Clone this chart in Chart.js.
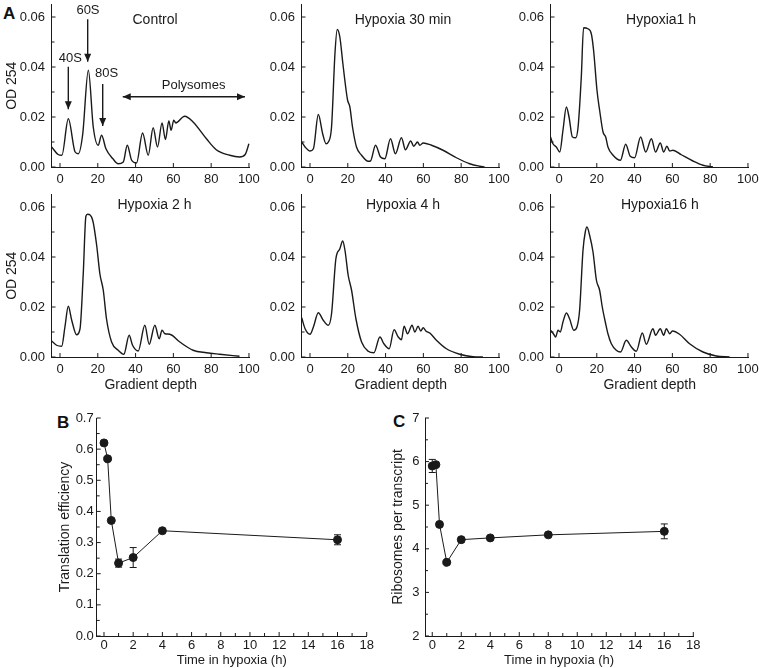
<!DOCTYPE html>
<html>
<head>
<meta charset="utf-8">
<script src="https://cdn.jsdelivr.net/npm/chart.js@4.4.0/dist/chart.umd.min.js"></script>
<style>
  html, body { margin: 0; padding: 0; background: #fff; overflow: hidden; }
  body { width: 759px; height: 668px; position: relative; font-family: "Liberation Sans", Arial, sans-serif; }
  canvas { position: absolute; }
  .tag { position: absolute; font-weight: bold; font-size: 17px; line-height: 1; color: #111; }
</style>
</head>
<body>
<div class="tag" style="left:3px;top:5px">A</div>
<div class="tag" style="left:57px;top:414px">B</div>
<div class="tag" style="left:393px;top:413px">C</div>
<script>
// tick labels
const depthTicks = ['0', '20', '40', '60', '80', '100'];
const odTicks = ['0.00', '0.02', '0.04', '0.06'];
const odMinor = [0.01, 0.03, 0.05];
const hourTicks = ['0', '2', '4', '6', '8', '10', '12', '14', '16', '18'];
const hourMinor = [1, 3, 5, 7, 9, 11, 13, 15, 17];
const teTicks = ['0.0', '0.1', '0.2', '0.3', '0.4', '0.5', '0.6', '0.7'];
const teMinor = [0.05, 0.15, 0.25, 0.35, 0.45, 0.55, 0.65];
const rptTicks = ['2', '3', '4', '5', '6', '7'];
const rptMinor = [2.5, 3.5, 4.5, 5.5, 6.5];

// polysome profiles (gradient depth vs OD 254)
const ctrlDepth = [-4.4, -1, 1, 4.4, 8, 9.7, 12, 15, 17.6, 20.2, 22, 24.3, 28, 30.8, 33.5, 35.6, 37.9, 40.5, 43.7, 46.7, 49.3, 51.6, 54, 55.8, 57.6, 58.8, 60.2, 61.3, 65, 66, 70.4, 77.5, 82.7, 89.8, 95, 98, 100];
const ctrlOD = [0.008, 0.005, 0.0047, 0.0193, 0.006, 0.0053, 0.013, 0.0387, 0.016, 0.0087, 0.0127, 0.0073, 0.0033, 0.0013, 0.002, 0.0087, 0.0027, 0.0016, 0.0136, 0.0047, 0.0157, 0.008, 0.0176, 0.011, 0.0184, 0.0147, 0.0187, 0.0176, 0.020, 0.0203, 0.018, 0.0113, 0.0069, 0.0047, 0.004, 0.005, 0.0093];

const h30Depth = [-4.4, -2.6, 0, 1.8, 4.4, 6.7, 8.5, 9.7, 11.4, 13.2, 14.4, 15.8, 17.3, 19, 19.9, 21.1, 22.5, 24.6, 27.3, 30.8, 32, 34.7, 37.3, 39.6, 42.6, 45.2, 48.4, 50.5, 53.3, 54.9, 56.9, 58.1, 59.9, 64.3, 70.4, 77.5, 84.5, 89.8, 92.4];
const h30OD = [0.01, 0.008, 0.0064, 0.0073, 0.021, 0.0133, 0.0093, 0.01, 0.016, 0.0453, 0.055, 0.052, 0.042, 0.0313, 0.0267, 0.024, 0.016, 0.008, 0.0047, 0.0023, 0.0024, 0.0087, 0.004, 0.0033, 0.0113, 0.0053, 0.0117, 0.0069, 0.0104, 0.0083, 0.01, 0.0087, 0.0096, 0.0087, 0.0067, 0.0037, 0.0013, 0.0003, 0];

const h1Depth = [-4.5, -3.2, -1.4, 0.4, 2.1, 3.9, 5.3, 7.1, 8.8, 10.1, 11.8, 13, 15.3, 17.1, 18.3, 20.1, 21.5, 23.3, 24.7, 25.9, 28.6, 32.5, 35.3, 37.7, 40, 43.2, 45.9, 48.9, 51.1, 53.6, 55.4, 57.1, 58.6, 60.3, 64.7, 70.9, 76.2, 81.5];
const h1OD = [0.012, 0.0093, 0.008, 0.006, 0.0147, 0.024, 0.02, 0.012, 0.0117, 0.016, 0.036, 0.0557, 0.0553, 0.0533, 0.0467, 0.0307, 0.0227, 0.014, 0.012, 0.008, 0.0047, 0.0027, 0.0091, 0.0043, 0.0037, 0.012, 0.006, 0.0113, 0.006, 0.0096, 0.006, 0.0083, 0.0064, 0.0067, 0.0049, 0.0024, 0.0007, 0];

const h2Depth = [-4.4, -1.8, 0.9, 2.6, 4.4, 6.2, 8.8, 10.6, 12.3, 13.7, 14.6, 17.3, 19.4, 21.1, 22.9, 24.6, 27.3, 30.8, 33.8, 36.6, 38.4, 41.4, 44.9, 47.2, 50.2, 52.5, 54, 55.5, 58.1, 63.4, 70.4, 77.5, 84.5, 95];
const h2OD = [0.0064, 0.0047, 0.0043, 0.012, 0.0203, 0.0147, 0.0089, 0.0113, 0.0333, 0.0563, 0.0571, 0.0547, 0.0447, 0.0333, 0.0267, 0.0153, 0.006, 0.0027, 0.0011, 0.0087, 0.0047, 0.0024, 0.0127, 0.0051, 0.0127, 0.0073, 0.0107, 0.0093, 0.0091, 0.006, 0.0027, 0.0017, 0.0011, 0.0003];

const h4Depth = [-4.4, -2.6, 0, 1.8, 4.4, 7, 9.7, 11.4, 13.7, 15.8, 17.3, 18.5, 20.2, 22, 24.3, 27.3, 30.8, 33.8, 37, 39.1, 41.9, 44.5, 46.7, 48.4, 49.8, 51.6, 54, 55.5, 57.2, 58.6, 59.9, 61.3, 63.4, 66.9, 72.2, 79.2, 86.3, 91.5];
const h4OD = [0.0157, 0.0113, 0.0091, 0.012, 0.0177, 0.0147, 0.0127, 0.0173, 0.0393, 0.0433, 0.0464, 0.0427, 0.0327, 0.0267, 0.0153, 0.006, 0.0023, 0.0017, 0.008, 0.0053, 0.0033, 0.0109, 0.008, 0.0069, 0.0123, 0.0093, 0.0127, 0.01, 0.0123, 0.0104, 0.0117, 0.0104, 0.0096, 0.0067, 0.0033, 0.0011, 0.0001, 0];

const h16Depth = [-4.5, -2.8, -1.8, -0.5, 0.7, 2.1, 3.9, 5.6, 7.8, 9.5, 10.9, 12.7, 13.9, 14.8, 16.2, 18, 19.8, 21.5, 22.9, 24.7, 25.9, 27.7, 30.3, 32.6, 35.6, 38.3, 40.9, 44.1, 46.2, 49.7, 51.1, 53.6, 55.4, 56.8, 58.6, 60, 63.8, 69.1, 76.2, 83.2, 90.3];
const h16OD = [0.0107, 0.0091, 0.008, 0.0107, 0.01, 0.014, 0.0176, 0.0153, 0.0107, 0.012, 0.0187, 0.0427, 0.05, 0.052, 0.0487, 0.042, 0.0307, 0.0267, 0.02, 0.0133, 0.0093, 0.0053, 0.0027, 0.002, 0.0067, 0.004, 0.0023, 0.0096, 0.0051, 0.0113, 0.0087, 0.0113, 0.0087, 0.0113, 0.0093, 0.0104, 0.0091, 0.0053, 0.002, 0.0004, 0];

// B: translation efficiency
const teHours = [0, 0.25, 0.5, 1, 2, 4, 16];
const teValues = [0.62, 0.569, 0.371, 0.234, 0.252, 0.338, 0.309];
const teErr = [0, 0, 0, 0.013, 0.032, 0.005, 0.016];

// C: ribosomes per transcript
const rptHours = [0, 0.25, 0.5, 1, 2, 4, 8, 16];
const rptValues = [5.9, 5.93, 4.56, 3.69, 4.21, 4.25, 4.32, 4.4];
const rptErr = [0.15, 0, 0, 0, 0, 0, 0, 0.17];

const FONT = '"Liberation Sans", Arial, sans-serif';
const INK = '#1a1a1a';
Chart.defaults.font.family = FONT;
Chart.defaults.font.size = 13;
Chart.defaults.color = INK;

function setTicks(scale, labels, minor) {
    const major = labels.map(l => ({ value: +l }));
    const small = minor.map(v => ({ value: v, minor: true }));
    scale.ticks = major.concat(small).sort((a, b) => a.value - b.value);
}

function labelFor(labels) {
    return function(value) {
        const l = labels.find(s => Math.abs(+s - value) < 1e-9);
        return l === undefined ? '' : l;
    };
}

// inward pointing tick marks
const inTicks = {
    id: 'inTicks',
    afterDraw(chart) {
        const ctx = chart.ctx;
        const a = chart.chartArea;
        ctx.save();
        ctx.strokeStyle = INK;
        ctx.lineWidth = 1;
        Object.values(chart.scales).forEach(s => {
            s.ticks.forEach(t => {
                const len = t.minor ? 3 : 4;
                const p = s.getPixelForValue(t.value);
                ctx.beginPath();
                if (s.isHorizontal()) {
                    ctx.moveTo(p, a.bottom);
                    ctx.lineTo(p, a.bottom - len);
                } else {
                    ctx.moveTo(a.left, p);
                    ctx.lineTo(a.left + len, p);
                }
                ctx.stroke();
            });
        });
        ctx.restore();
    }
};

function arrowHead(ctx, fx, fy, tx, ty) {
    const ang = Math.atan2(ty - fy, tx - fx);
    const L = 8, W = 3.5;
    const c = Math.cos(ang), s = Math.sin(ang);
    ctx.beginPath();
    ctx.moveTo(tx, ty);
    ctx.lineTo(tx - L * c + W * s, ty - L * s - W * c);
    ctx.lineTo(tx - L * c - W * s, ty - L * s + W * c);
    ctx.closePath();
    ctx.fill();
}

// panel texts, arrows and error bars, placed in data units
const notes = {
    id: 'notes',
    afterDraw(chart, args, opts) {
        const xs = chart.scales.x, ys = chart.scales.y, ctx = chart.ctx;
        const px = v => xs.getPixelForValue(v), py = v => ys.getPixelForValue(v);
        ctx.save();
        ctx.fillStyle = INK;
        ctx.strokeStyle = INK;
        ctx.textAlign = 'center';
        ctx.textBaseline = 'middle';
        (opts.texts || []).forEach(t => {
            ctx.font = (t.size || 13) + 'px ' + FONT;
            ctx.fillText(t.text, px(t.x), py(t.y));
        });
        ctx.lineWidth = 1.4;
        (opts.arrows || []).forEach(a => {
            const x1 = px(a.x1), y1 = py(a.y1), x2 = px(a.x2), y2 = py(a.y2);
            ctx.beginPath();
            ctx.moveTo(x1, y1);
            ctx.lineTo(x2, y2);
            ctx.stroke();
            arrowHead(ctx, x1, y1, x2, y2);
            if (a.both) arrowHead(ctx, x2, y2, x1, y1);
        });
        if (opts.err) {
            ctx.lineWidth = 1;
            const e = opts.err;
            e.xs.forEach((x, i) => {
                if (!e.es[i]) return;
                const cx = px(x), top = py(e.ys[i] + e.es[i]), bot = py(e.ys[i] - e.es[i]);
                ctx.beginPath();
                ctx.moveTo(cx, top); ctx.lineTo(cx, bot);
                ctx.moveTo(cx - 3.5, top); ctx.lineTo(cx + 3.5, top);
                ctx.moveTo(cx - 3.5, bot); ctx.lineTo(cx + 3.5, bot);
                ctx.stroke();
            });
        }
        ctx.restore();
    }
};

function makeCanvas(box) {
    const c = document.createElement('canvas');
    c.width = box.w;
    c.height = box.h;
    c.style.left = box.x + 'px';
    c.style.top = box.y + 'px';
    document.body.appendChild(c);
    return c;
}

// box = canvas rect on page, area = plot area on page
function makeChart(box, area, sc, datasets, noteOpts) {
    const canvas = makeCanvas(box);
    const xSize = sc.xTitleSize || 13;
    const xTitle = sc.xTitle ? {
        display: true, text: sc.xTitle, font: { size: xSize },
        padding: { top: 0, bottom: Math.max(0, box.y + box.h - sc.xTitleY - xSize * 0.6) }
    } : { display: false };
    const yTitle = sc.yTitle ? {
        display: true, text: sc.yTitle, font: { size: 14 },
        padding: { top: Math.max(0, sc.yTitleX - box.x - 8.4), bottom: 0 }
    } : { display: false };
    return new Chart(canvas, {
        type: 'line',
        data: { datasets: datasets },
        options: {
            responsive: false,
            animation: false,
            devicePixelRatio: 1,
            layout: { padding: { left: 0, bottom: 0, top: area.t - box.y, right: box.x + box.w - area.r } },
            plugins: { legend: { display: false }, tooltip: { enabled: false }, notes: noteOpts },
            scales: {
                x: {
                    type: 'linear', min: sc.xMin, max: sc.xMax,
                    grid: { drawOnChartArea: false, drawTicks: false },
                    border: { color: INK, width: 1 },
                    ticks: { padding: sc.xPad, autoSkip: false, maxRotation: 0, callback: labelFor(sc.xLabels) },
                    afterBuildTicks: s => setTicks(s, sc.xLabels, sc.xMinor),
                    afterFit: s => {
                        s.height = box.y + box.h - area.b;
                        s.paddingLeft = 0;
                        s.paddingRight = 0;
                    },
                    title: xTitle
                },
                y: {
                    type: 'linear', min: sc.yMin, max: sc.yMax,
                    grid: { drawOnChartArea: false, drawTicks: false },
                    border: { color: INK, width: 1 },
                    ticks: { padding: sc.yPad, autoSkip: false, callback: labelFor(sc.yLabels) },
                    afterBuildTicks: s => setTicks(s, sc.yLabels, sc.yMinor),
                    afterFit: s => {
                        s.width = area.l - box.x;
                        s.paddingTop = 0;
                        s.paddingBottom = 0;
                    },
                    title: yTitle
                }
            }
        },
        plugins: [inTicks, notes]
    });
}

function profileSet(depth, od) {
    return [{
        data: depth.map((x, i) => ({ x: x, y: od[i] })),
        borderColor: INK,
        borderWidth: 1.4,
        pointRadius: 0,
        cubicInterpolationMode: 'monotone',
        fill: false
    }];
}

const profiles = [
    { name: 'Control', depth: ctrlDepth, od: ctrlOD, box: { x: 0, y: 0, w: 264, h: 190 }, area: { l: 51.5, t: 4.5, r: 249.9, b: 167 }, tx: 50.3, ty: 0.0588, yTitle: true },
    { name: 'Hypoxia 30 min', depth: h30Depth, od: h30OD, box: { x: 262, y: 0, w: 252, h: 190 }, area: { l: 301.5, t: 4.5, r: 499.9, b: 167 }, tx: 49.2, ty: 0.0588 },
    { name: 'Hypoxia1 h', depth: h1Depth, od: h1OD, box: { x: 510, y: 0, w: 254, h: 190 }, area: { l: 550.5, t: 4.5, r: 748.9, b: 167 }, tx: 54, ty: 0.0588 },
    { name: 'Hypoxia 2 h', depth: h2Depth, od: h2OD, box: { x: 0, y: 190, w: 264, h: 206 }, area: { l: 51.5, t: 194.5, r: 249.9, b: 357 }, tx: 50, ty: 0.0608, yTitle: true, xTitle: true },
    { name: 'Hypoxia 4 h', depth: h4Depth, od: h4OD, box: { x: 262, y: 190, w: 252, h: 206 }, area: { l: 301.5, t: 194.5, r: 499.9, b: 357 }, tx: 49.2, ty: 0.0608, xTitle: true },
    { name: 'Hypoxia16 h', depth: h16Depth, od: h16OD, box: { x: 510, y: 190, w: 254, h: 206 }, area: { l: 550.5, t: 194.5, r: 748.9, b: 357 }, tx: 53.4, ty: 0.0608, xTitle: true }
];

const controlArrows = [
    { x1: 4.4, y1: 0.0401, x2: 4.4, y2: 0.0231 },
    { x1: 14.65, y1: 0.0591, x2: 14.65, y2: 0.0421 },
    { x1: 22.6, y1: 0.0332, x2: 22.6, y2: 0.0164 },
    { x1: 33.2, y1: 0.0281, x2: 97.9, y2: 0.0281, both: true }
];
const controlTexts = [
    { text: '40S', x: 5.5, y: 0.0435 },
    { text: '60S', x: 14.8, y: 0.0628 },
    { text: '80S', x: 24.7, y: 0.0375 },
    { text: 'Polysomes', x: 70.7, y: 0.0328 }
];

profiles.forEach((p, i) => {
    const texts = [{ text: p.name, x: p.tx, y: p.ty, size: 14 }];
    makeChart(p.box, p.area, {
        xMin: -4.5, xMax: 100.5, yMin: 0, yMax: 0.065,
        xLabels: depthTicks, xMinor: [], yLabels: odTicks, yMinor: odMinor,
        xPad: 5, yPad: 6.5,
        yTitle: p.yTitle ? 'OD 254' : null, yTitleX: 12,
        xTitle: p.xTitle ? 'Gradient depth' : null, xTitleY: 385, xTitleSize: 14
    }, profileSet(p.depth, p.od), {
        texts: i === 0 ? texts.concat(controlTexts) : texts,
        arrows: i === 0 ? controlArrows : []
    });
});

function pointSet(xs, ys) {
    return [{
        data: xs.map((x, i) => ({ x: x, y: ys[i] })),
        borderColor: INK,
        borderWidth: 1,
        pointRadius: 4,
        pointBackgroundColor: INK,
        pointBorderColor: INK,
        tension: 0
    }];
}

makeChart({ x: 45, y: 400, w: 335, h: 268 }, { l: 96.7, t: 418, r: 366.7, b: 636 }, {
    xMin: -0.5, xMax: 18, yMin: 0, yMax: 0.7,
    xLabels: hourTicks, xMinor: hourMinor, yLabels: teTicks, yMinor: teMinor,
    xPad: 2, yPad: 3,
    yTitle: 'Translation efficiency', yTitleX: 65,
    xTitle: 'Time in hypoxia (h)', xTitleY: 661
}, pointSet(teHours, teValues), { err: { xs: teHours, ys: teValues, es: teErr } });

makeChart({ x: 385, y: 400, w: 330, h: 268 }, { l: 425, t: 418, r: 693.3, b: 636 }, {
    xMin: -0.5, xMax: 18, yMin: 2, yMax: 7,
    xLabels: hourTicks, xMinor: hourMinor, yLabels: rptTicks, yMinor: rptMinor,
    xPad: 2, yPad: 5.5,
    yTitle: 'Ribosomes per transcript', yTitleX: 398,
    xTitle: 'Time in hypoxia (h)', xTitleY: 661
}, pointSet(rptHours, rptValues), { err: { xs: rptHours, ys: rptValues, es: rptErr } });
</script>
</body>
</html>
